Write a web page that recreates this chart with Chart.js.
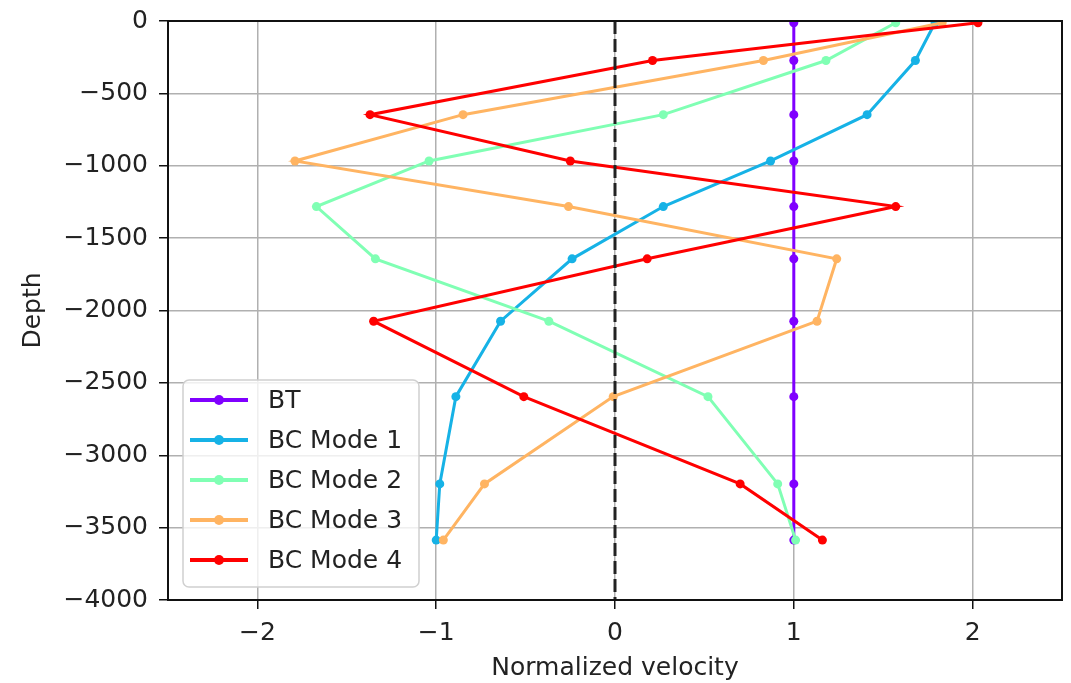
<!DOCTYPE html>
<html lang="en">
<head>
    <meta charset="UTF-8">
    <title>Normalized velocity profiles</title>
    <script src="https://cdn.jsdelivr.net/npm/chart.js"></script>
    <style>
        body { margin: 0; background: #fff; }
        .wrap { width: 1071px; height: 683px; position: relative; }
    </style>
</head>
<body>
    <div class="wrap">
        <canvas id="modesChart"></canvas>
    </div>
    <script>
        // depth of each level and the mode amplitudes there
        const depth = [-12, -273, -647, -967, -1282, -1643, -2074, -2595, -3198, -3586];
        const bt  = [1.0, 1.0, 1.0, 1.0, 1.0, 1.0, 1.0, 1.0, 1.0, 1.0];
        const bc1 = [1.79, 1.68, 1.41, 0.87, 0.27, -0.24, -0.64, -0.89, -0.98, -1.00];
        const bc2 = [1.57, 1.18, 0.27, -1.04, -1.67, -1.34, -0.37, 0.52, 0.91, 1.01];
        const bc3 = [1.83, 0.83, -0.85, -1.79, -0.26, 1.24, 1.13, -0.01, -0.73, -0.96];
        const bc4 = [2.03, 0.21, -1.37, -0.25, 1.57, 0.18, -1.35, -0.51, 0.70, 1.16];

        const seriesNames = ["BT", "BC Mode 1", "BC Mode 2", "BC Mode 3", "BC Mode 4"];
        const seriesColors = ["#8000ff", "#16b2e6", "#80ffb4", "#ffb462", "#ff0000"];
        const xTicks = [-2, -1, 0, 1, 2];
        const zeroLineDepth = [0, -4000];

        const FONT = "DejaVu Sans";
        const minus = v => String(v).replace("-", "\u2212");

        const toPoints = vals => vals.map((v, i) => ({ x: v, y: depth[i] }));

        const datasets = [bt, bc1, bc2, bc3, bc4].map((vals, i) => ({
            label: seriesNames[i],
            data: toPoints(vals),
            showLine: true,
            borderColor: seriesColors[i],
            backgroundColor: seriesColors[i],
            borderWidth: 3,
            pointRadius: 4.5,
            pointBorderWidth: 0,
            order: 5 - i,
        }));

        // dashed zero line
        datasets.push({
            label: "zero",
            data: zeroLineDepth.map(d => ({ x: 0, y: d })),
            showLine: true,
            borderColor: "#222",
            borderWidth: 3,
            borderDash: [13, 5],
            pointRadius: 0,
            order: 0,
        });

        // frame on all four sides + legend box in the lower left
        const framePlugin = {
            id: "frame",
            afterDraw(chart) {
                const { ctx, chartArea: ca } = chart;
                ctx.save();
                ctx.strokeStyle = "#111";
                ctx.lineWidth = 2;
                ctx.strokeRect(ca.left, ca.top, ca.right - ca.left, ca.bottom - ca.top);

                const w = 236, h = 207;
                const bx = ca.left + 15, by = ca.bottom - 13 - h;
                ctx.beginPath();
                ctx.roundRect(bx, by, w, h, 6);
                ctx.fillStyle = "rgba(255,255,255,0.8)";
                ctx.fill();
                ctx.strokeStyle = "#d0d0d0";
                ctx.lineWidth = 1.5;
                ctx.stroke();

                ctx.font = "25px '" + FONT + "'";
                ctx.textBaseline = "middle";
                ctx.textAlign = "left";
                seriesNames.forEach((name, i) => {
                    const y = by + 20 + i * 40;
                    ctx.strokeStyle = seriesColors[i];
                    ctx.fillStyle = seriesColors[i];
                    ctx.lineWidth = 4;
                    ctx.beginPath();
                    ctx.moveTo(bx + 7, y);
                    ctx.lineTo(bx + 65, y);
                    ctx.stroke();
                    ctx.beginPath();
                    ctx.arc(bx + 36, y, 5, 0, Math.PI * 2);
                    ctx.fill();
                    ctx.fillStyle = "#222";
                    ctx.fillText(name, bx + 85, y + 1);
                });
                ctx.restore();
            }
        };

        new Chart(document.getElementById("modesChart"), {
            type: "scatter",
            data: { datasets },
            options: {
                responsive: true,
                maintainAspectRatio: false,
                animation: false,
                layout: { padding: { top: 21, right: 9, left: 0, bottom: 0 } },
                plugins: { legend: { display: false }, tooltip: { enabled: false } },
                scales: {
                    x: {
                        min: -2.5,
                        max: 2.5,
                        afterBuildTicks: s => { s.ticks = xTicks.map(v => ({ value: v })); },
                        afterFit: s => { s.height = 83; s.paddingLeft = 0; s.paddingRight = 0; },
                        grid: { color: "#b0b0b0", lineWidth: 1.5, tickColor: "#111", tickLength: 9 },
                        border: { color: "#111", width: 2 },
                        ticks: {
                            color: "#222",
                            padding: 9,
                            font: { family: FONT, size: 25 },
                            callback: v => minus(v),
                        },
                        title: {
                            display: true,
                            text: "Normalized velocity",
                            color: "#222",
                            font: { family: FONT, size: 25, lineHeight: 1.2 },
                            padding: { top: 0, bottom: 0 },
                        },
                    },
                    y: {
                        min: -4000,
                        max: 0,
                        afterFit: s => { s.width = 168; s.paddingTop = 0; s.paddingBottom = 0; },
                        grid: { color: "#b0b0b0", lineWidth: 1.5, tickColor: "#111", tickLength: 9 },
                        border: { color: "#111", width: 2 },
                        ticks: {
                            stepSize: 500,
                            color: "#222",
                            padding: 11,
                            font: { family: FONT, size: 25 },
                            callback: v => minus(v),
                        },
                        title: {
                            display: true,
                            text: "Depth",
                            color: "#222",
                            font: { family: FONT, size: 25, lineHeight: 1.2 },
                            padding: { top: 18, bottom: 0 },
                        },
                    },
                },
            },
            plugins: [framePlugin],
        });
    </script>
</body>
</html>
